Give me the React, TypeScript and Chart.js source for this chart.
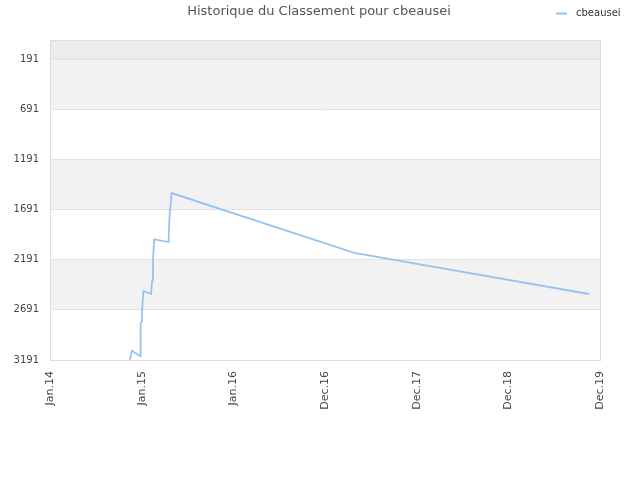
import React, { useEffect, useRef } from "react";
import { Chart, registerables } from "chart.js";

Chart.register(...registerables);

const chartTitle = "Historique du Classement pour cbeausei";
const seriesName = "cbeausei";

const dates = [
  "2014-11-15", "2014-11-23", "2014-12-26", "2014-12-28", "2015-01-02",
  "2015-01-03", "2015-01-08", "2015-02-07", "2015-02-12", "2015-02-15",
  "2015-02-20", "2015-04-18", "2015-04-22", "2015-04-25", "2015-04-30",
  "2017-04-27", "2019-11-17",
];
const ranks = [
  3191, 3098, 3151, 2822, 2809,
  2686, 2503, 2533, 2394, 2194,
  1988, 2015, 1763, 1676, 1527,
  2122, 2533,
];

const xTickDays = [0, 365, 730, 1095, 1460, 1825, 2190];
const xTickLabels = ["Jan.14", "Jan.15", "Jan.16", "Dec.16", "Dec.17", "Dec.18", "Dec.19"];
const yTickValues = [191, 691, 1191, 1691, 2191, 2691, 3191];
const yMin = 1;
const yMax = 3191;

const FONT = "'DejaVu Sans', sans-serif";
const LINE_COLOR = "#96c4f2";

function dayOffset(s: string): number {
  const [y, m, d] = s.split("-").map(Number);
  return Math.round((Date.UTC(y, m - 1, d) - Date.UTC(2014, 0, 1)) / 86400000);
}

const bandsPlugin = {
  id: "bands",
  beforeDraw(chart: any) {
    const { ctx, chartArea, scales } = chart;
    const y = scales.y;
    const bounds = [yMin, ...yTickValues];
    ctx.save();
    for (let i = 0; i < bounds.length - 1; i++) {
      const p1 = y.getPixelForValue(bounds[i]);
      const p2 = y.getPixelForValue(bounds[i + 1]);
      ctx.fillStyle = i === 0 ? "#ececec" : i % 2 === 1 ? "#f2f2f2" : "#ffffff";
      ctx.fillRect(chartArea.left, Math.min(p1, p2), chartArea.right - chartArea.left, Math.abs(p2 - p1));
    }
    ctx.restore();
  },
  beforeDatasetsDraw(chart: any) {
    const { ctx, chartArea } = chart;
    ctx.save();
    ctx.strokeStyle = "#dddddd";
    ctx.lineWidth = 1;
    ctx.strokeRect(
      Math.round(chartArea.left) + 0.5,
      Math.round(chartArea.top) + 0.5,
      Math.round(chartArea.right - chartArea.left),
      Math.round(chartArea.bottom - chartArea.top)
    );
    ctx.restore();
  },
  afterDraw(chart: any) {
    const { ctx } = chart;
    ctx.save();
    ctx.fillStyle = "#555555";
    ctx.font = `13px ${FONT}`;
    ctx.textAlign = "center";
    ctx.textBaseline = "middle";
    ctx.fillText(chartTitle, 319, 12);

    ctx.strokeStyle = LINE_COLOR;
    ctx.lineWidth = 2;
    ctx.beginPath();
    ctx.moveTo(556, 13.5);
    ctx.lineTo(567, 13.5);
    ctx.stroke();
    ctx.fillStyle = "#333333";
    ctx.font = `10px ${FONT}`;
    ctx.textAlign = "left";
    ctx.fillText(seriesName, 576, 13);
    ctx.restore();
  },
};

function RankChart() {
  const ref = useRef<HTMLCanvasElement | null>(null);
  useEffect(() => {
    if (!ref.current) return;
    const points = dates.map((d, i) => ({ x: dayOffset(d), y: ranks[i] }));
    const chart = new Chart(ref.current, {
      type: "line",
      data: {
        datasets: [
          {
            label: seriesName,
            data: points,
            borderColor: LINE_COLOR,
            backgroundColor: LINE_COLOR,
            borderWidth: 1.8,
            pointRadius: 0,
            tension: 0,
            fill: false,
          },
        ],
      },
      options: {
        animation: false,
        responsive: false,
        maintainAspectRatio: false,
        layout: { padding: { top: 40, right: 40, left: 0, bottom: 0 } },
        plugins: {
          legend: { display: false },
          title: { display: false },
          tooltip: { enabled: false },
        },
        scales: {
          x: {
            type: "linear",
            min: 0,
            max: 2190,
            afterBuildTicks(scale: any) {
              scale.ticks = xTickDays.map((v) => ({ value: v }));
            },
            afterFit(scale: any) {
              scale.height = 120;
            },
            grid: { display: true, color: "rgba(0,0,0,0)", drawTicks: false },
            border: { display: true, color: "#dddddd" },
            ticks: {
              autoSkip: false,
              maxRotation: 90,
              minRotation: 90,
              padding: 11,
              color: "#444444",
              font: { family: FONT, size: 11 },
              callback(value: any) {
                const idx = xTickDays.indexOf(Number(value));
                return idx >= 0 ? xTickLabels[idx] : "";
              },
            },
          },
          y: {
            type: "linear",
            reverse: true,
            min: yMin,
            max: yMax,
            afterBuildTicks(scale: any) {
              scale.ticks = yTickValues.map((v) => ({ value: v }));
            },
            afterFit(scale: any) {
              scale.width = 50;
            },
            grid: { color: "#e2e2e2", drawTicks: false },
            border: { display: true, color: "#dddddd" },
            ticks: {
              padding: 11,
              color: "#444444",
              font: { family: FONT, size: 10 },
              callback(value: any) {
                return String(value);
              },
            },
          },
        },
      },
      plugins: [bandsPlugin],
    } as any);
    return () => chart.destroy();
  }, []);
  return <canvas ref={ref} width={640} height={480} style={{ width: 640, height: 480, display: "block" }} />;
}

export default function App() {
  return (
    <div style={{ position: "absolute", left: 0, top: 0, width: 640, height: 480, background: "#ffffff" }}>
      <RankChart />
    </div>
  );
}
